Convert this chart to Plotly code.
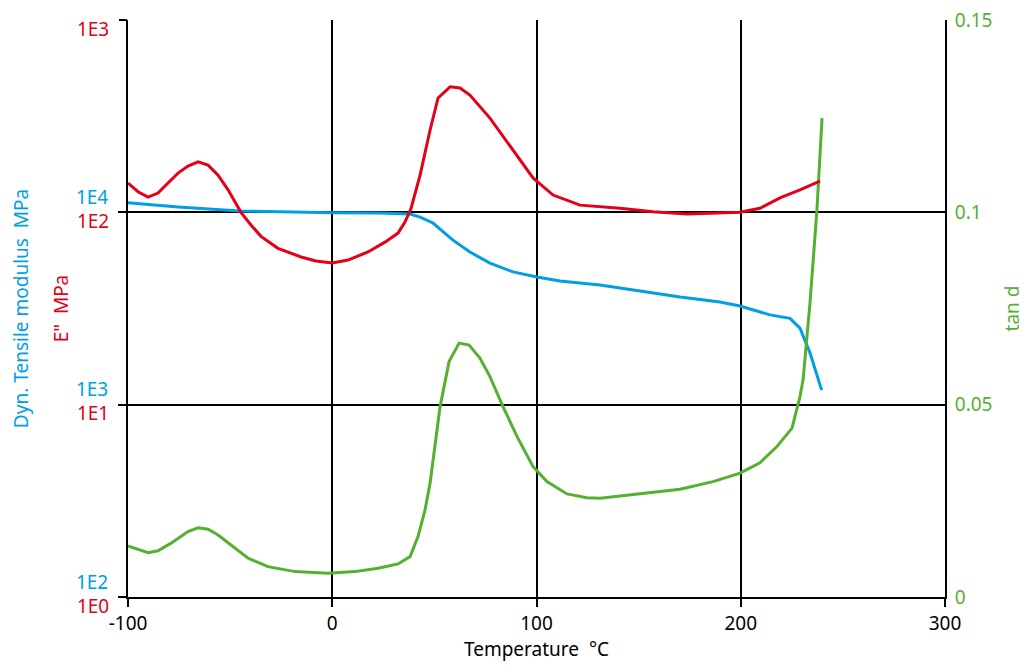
import plotly.graph_objects as go

# Dynamic tensile modulus E' (MPa) vs temperature
t_mod = [-100, -75.5, -45.2, -20.7, 0, 23.4, 38.1, 43, 49.3, 59.1, 67.4, 77.2, 88.5, 100.2,
         111.5, 131.1, 150.7, 170.3, 189.8, 199.6, 214.3, 224.1, 229, 233.9, 239.6]
e_mod = [11200, 10670, 10160, 10000, 9950, 9920, 9790, 9450, 8800, 7170, 6220, 5450, 4900, 4610,
         4400, 4190, 3900, 3630, 3420, 3260, 2930, 2810, 2500, 1860, 1190]

# Loss modulus E'' (MPa)
t_loss = [-100, -95.1, -90.2, -85.3, -80.4, -75.5, -70.6, -65.7, -60.8, -55.9, -51.0, -44.7,
          -39.8, -34.9, -26.6, -15.3, -8, 0, 7.7, 17.5, 25.8, 32.2, 35.6, 38.6, 43, 47.9, 51.8,
          57.7, 62.5, 67.4, 77.2, 88.5, 98.3, 108.1, 121.3, 140.9, 157, 173.7, 189.8, 199.6,
          209.4, 219.2, 229, 238.8]
e_loss = [142, 128, 120, 126, 142, 160, 174, 183, 176, 156, 131, 100,
          86, 75, 65, 58.6, 55.8, 54.5, 56.5, 62.2, 70, 78, 89, 105, 156, 268, 393,
          449, 443, 407, 309, 211, 151, 123, 109, 105, 100.8, 97.9, 99.5, 100,
          105, 119, 131, 145.5]

# tan delta
t_tan = [-100, -90.2, -85.3, -78.9, -70.6, -65.7, -60.8, -55.9, -51.0, -41.2, -31.5, -18.2,
         -2.1, 11.1, 22.4, 32.2, 38.1, 42.0, 45.4, 47.9, 52.8, 57.2, 62.1, 67.0, 72.3, 77.2,
         83.6, 90.5, 98.3, 105.1, 114.9, 124.7, 131.1, 145.8, 170.3, 186.4, 199.7, 209.4,
         217.7, 225.1, 229.0, 230.5, 233.9, 237.3, 239.8]
tan_d = [0.0133, 0.0115, 0.0120, 0.0140, 0.0170, 0.0180, 0.0176, 0.0161, 0.0141, 0.0101,
         0.0079, 0.0066, 0.0062, 0.0066, 0.0075, 0.0086, 0.0105, 0.0157, 0.0226, 0.0296,
         0.0495, 0.0612, 0.0660, 0.0655, 0.0621, 0.0573, 0.0495, 0.0417, 0.0339, 0.0300,
         0.0268, 0.0258, 0.0257, 0.0265, 0.0280, 0.0300, 0.0322, 0.0349, 0.0391, 0.0439,
         0.0521, 0.0564, 0.0764, 0.1006, 0.1245]

x_ticks = [-100, 0, 100, 200, 300]
mod_ticks = [100, 1000, 10000]
mod_labels = ["1E2", "1E3", "1E4"]
loss_ticks = [1, 10, 100, 1000]
loss_labels = ["1E0", "1E1", "1E2", "1E3"]
tan_ticks = [0, 0.05, 0.1, 0.15]
tan_labels = ["0", "0.05", "0.1", "0.15"]

BLUE = "#009FE3"
RED = "#E2001A"
GREEN = "#55B032"
FONT = "Noto Sans"
FS = 19

fig = go.Figure()
fig.add_trace(go.Scatter(x=t_mod, y=e_mod, mode="lines", line=dict(color=BLUE, width=3), yaxis="y"))
fig.add_trace(go.Scatter(x=t_tan, y=tan_d, mode="lines", line=dict(color=GREEN, width=3), yaxis="y2"))
fig.add_trace(go.Scatter(x=t_loss, y=e_loss, mode="lines", line=dict(color=RED, width=3), yaxis="y3"))

fig.update_layout(
    width=1019, height=659,
    margin=dict(l=120, r=82, t=12, b=70, autoexpand=False),
    paper_bgcolor="white", plot_bgcolor="white",
    showlegend=False,
    font=dict(family=FONT, size=FS, color="black"),
    xaxis=dict(
        range=[-100, 300], tickvals=x_ticks, ticktext=[str(v) for v in x_ticks],
        showgrid=True, gridcolor="black", gridwidth=2,
        showline=True, linecolor="black", linewidth=2,
        ticks="outside", ticklen=8, tickwidth=2, tickcolor="black",
        zeroline=False, automargin=False,
        title=dict(text="Temperature\u00a0\u00a0°C", standoff=6, font=dict(size=FS)),
        tickfont=dict(size=FS, color="black"),
    ),
    yaxis=dict(
        type="log", range=[2, 5], tickvals=mod_ticks, ticktext=mod_labels,
        showgrid=True, gridcolor="black", gridwidth=2,
        showline=True, linecolor="black", linewidth=2,
        ticks="outside", ticklen=8, tickwidth=2, tickcolor="black",
        zeroline=False, automargin=False,
        tickfont=dict(size=FS, color=BLUE),
        ticklabelshift=-15, ticklabelstandoff=6,
        title=dict(text="Dyn. Tensile modulus\u00a0\u00a0MPa", standoff=50, font=dict(color=BLUE, size=FS)),
    ),
    yaxis2=dict(
        overlaying="y", side="right", range=[0, 0.150001],
        tickvals=tan_ticks, ticktext=tan_labels,
        showgrid=False, showline=True, linecolor="black", linewidth=2,
        ticks="", zeroline=False, automargin=False,
        ticklabeloverflow="allow",
        tickfont=dict(size=FS, color=GREEN), ticklabelstandoff=4,
        title=dict(text="tan d", standoff=14, font=dict(color=GREEN, size=FS)),
    ),
    yaxis3=dict(
        overlaying="y", side="left", type="log", range=[0, 3],
        tickvals=loss_ticks, ticktext=loss_labels,
        showgrid=False, showline=False,
        ticks="outside", ticklen=8, tickwidth=2, tickcolor="black",
        zeroline=False, automargin=False,
        ticklabeloverflow="allow",
        tickfont=dict(size=FS, color=RED),
        ticklabelshift=9, ticklabelstandoff=6,
        title=dict(text="E\"\u00a0\u00a0MPa", standoff=3, font=dict(color=RED, size=FS)),
    ),
)

fig.write_html("out.html")
